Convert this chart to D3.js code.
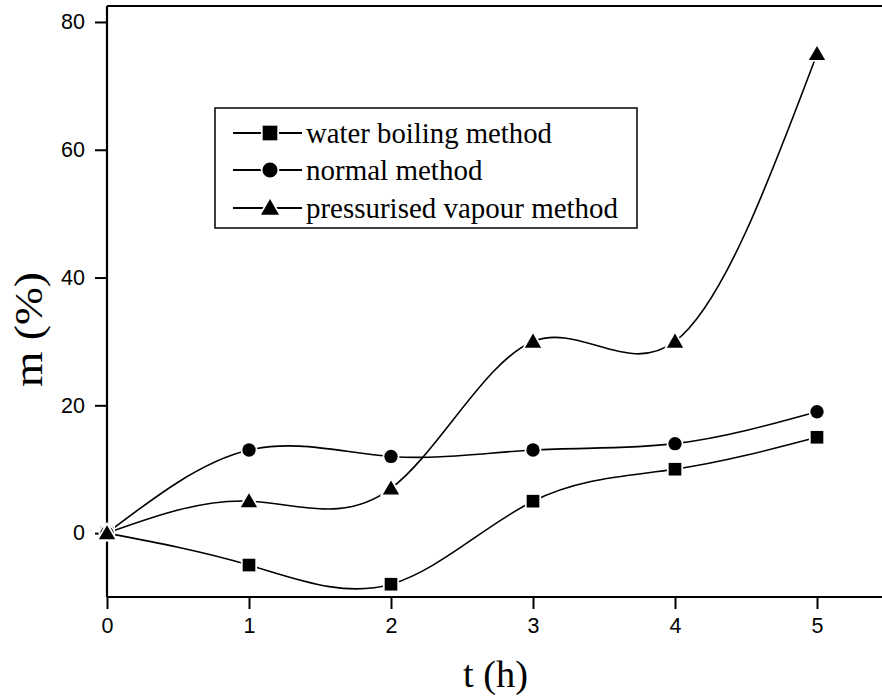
<!DOCTYPE html>
<html><head><meta charset="utf-8">
<script src="https://cdn.jsdelivr.net/npm/d3@7/dist/d3.min.js"></script>
<style>body{margin:0;background:#fff}svg{display:block}</style>
</head><body><svg id="c" width="882" height="698"></svg>
<script>
const times = [0, 1, 2, 3, 4, 5];
const waterBoiling = [0, -5, -8, 5, 10, 15];
const normalMethod = [0, 13, 12, 13, 14, 19];
const pressurisedVapour = [0, 5, 7, 30, 30, 75];
const seriesNames = ["water boiling method", "normal method", "pressurised vapour method"];
const seriesSymbols = ["square", "circle", "triangle"];
const xTicks = [0, 1, 2, 3, 4, 5];
const yTicks = [0, 20, 40, 60, 80];

const svg = d3.select("#c");
const x = d3.scaleLinear().domain([0, 5.5]).range([107, 888]);
const y = d3.scaleLinear().domain([-10, 82.5]).range([597, 6]);
const serif = "Liberation Serif, Times New Roman, serif";
const sans = "Liberation Sans, Arial, sans-serif";

const g = svg.append("g");
g.append("line").attr("x1", x(0)).attr("x2", 882).attr("y1", y(82.5)).attr("y2", y(82.5)).attr("stroke", "#000").attr("stroke-width", 2.2);

const xAxis = g.append("g").attr("transform", `translate(0,${y(-10)})`)
  .call(d3.axisBottom(x).tickValues(xTicks).tickSize(12).tickPadding(9).tickFormat(d3.format("d")));
const yAxis = g.append("g").attr("transform", `translate(${x(0)},0)`)
  .call(d3.axisLeft(y).tickValues(yTicks).tickSize(12).tickPadding(10).tickFormat(d3.format("d")));
[xAxis, yAxis].forEach(a => {
  a.select(".domain").attr("stroke-width", 2.2);
  a.selectAll(".tick line").attr("stroke-width", 2);
  a.selectAll("text").attr("font-family", sans).attr("font-size", 21.5).attr("fill", "#000");
});
xAxis.select(".domain").attr("d", `M${x(0)},0H882`);
yAxis.select(".domain").attr("d", `M0,${y(82.5)}V${y(-10)}`);

// axis titles
svg.append("text").attr("x", 463).attr("y", 687)
  .attr("font-family", serif).attr("font-size", 37)
  .attr("textLength", 65).attr("lengthAdjust", "spacingAndGlyphs").text("t (h)");
svg.append("text").attr("transform", "translate(42,387) rotate(-90)")
  .attr("font-family", serif).attr("font-size", 40)
  .attr("textLength", 115).attr("lengthAdjust", "spacingAndGlyphs").text("m (%)");

const allSeries = [waterBoiling, normalMethod, pressurisedVapour];
const line = d3.line().x((d, i) => x(times[i])).y(d => y(d)).curve(d3.curveNatural);

function symbolPath(kind, cx, cy, big) {
  const t = {square: d3.symbolSquare, circle: d3.symbolCircle, triangle: d3.symbolTriangle}[kind];
  const size = big ? {square: 215, circle: 180, triangle: 140}[kind] : {square: 160, circle: 140, triangle: 115}[kind];
  const off = kind === "triangle" ? 1.5 : 0;
  return {d: d3.symbol(t, size)(), tr: `translate(${cx},${cy + off})`};
}
function drawSymbol(parent, kind, cx, cy, big) {
  const s = symbolPath(kind, cx, cy, big);
  parent.append("path").attr("d", s.d).attr("transform", s.tr).attr("fill", "#000").attr("stroke", "#fff").attr("stroke-width", 3.5);
  parent.append("path").attr("d", s.d).attr("transform", s.tr).attr("fill", "#000");
}

allSeries.forEach(vals => {
  svg.append("path").attr("d", line(vals)).attr("fill", "none").attr("stroke", "#000").attr("stroke-width", 1.6);
});
allSeries.forEach((vals, si) => {
  vals.forEach((v, i) => drawSymbol(svg, seriesSymbols[si], x(times[i]), y(v), false));
});

// legend
const lg = svg.append("g");
lg.append("rect").attr("x", 215).attr("y", 108).attr("width", 422).attr("height", 120)
  .attr("fill", "#fff").attr("stroke", "#000").attr("stroke-width", 1.5);
const rowsY = [133, 170, 208];
const textLens = [246, null, 312];
seriesNames.forEach((name, i) => {
  const yy = rowsY[i];
  lg.append("line").attr("x1", 233).attr("x2", 302).attr("y1", yy).attr("y2", yy).attr("stroke", "#000").attr("stroke-width", 1.8);
  drawSymbol(lg, seriesSymbols[i], 270, yy, true);
  const t = lg.append("text").attr("x", 306).attr("y", yy + 10).attr("font-family", serif)
    .attr("font-size", 29).text(name);
  if (textLens[i]) t.attr("textLength", textLens[i]).attr("lengthAdjust", "spacingAndGlyphs");
});
</script></body></html>
